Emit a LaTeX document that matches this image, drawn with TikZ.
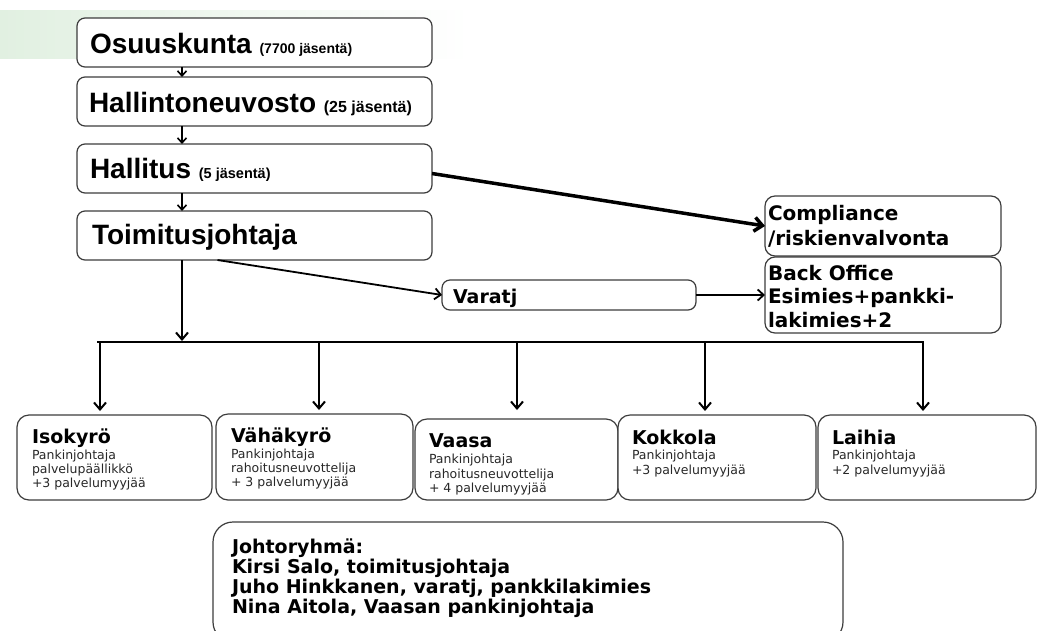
\documentclass[tikz,border=0pt]{standalone}
\usepackage{fontspec}
\newfontfamily\arialf{Liberation Sans}
\newfontfamily\verd{DejaVu Sans}
\usetikzlibrary{arrows.meta}
\definecolor{boxline}{RGB}{60,60,60}
\definecolor{subtxt}{RGB}{40,40,40}
\definecolor{bggreen}{RGB}{225,240,225}
\begin{document}
\begin{tikzpicture}[x=1pt,y=-1pt,
  box/.style={draw=boxline, line width=1.2pt, fill=white, rounded corners=8pt,
    inner sep=0pt, outer sep=0pt, anchor=north west},
  bbox/.style={box, rounded corners=12pt},
  lbl/.style={anchor=base west, inner sep=0pt, outer sep=0pt},
  bigT/.style={font=\arialf\bfseries\fontsize{28}{30}\selectfont},
  vb/.style={font=\verd\bfseries\fontsize{19}{24}\selectfont, align=left},
  vr/.style={font=\verd\bfseries\fontsize{20}{24}\selectfont, align=left},
  vs/.style={font=\verd\fontsize{12.5}{14.5}\selectfont, text=subtxt, align=left},
  tarr/.style={line width=1.6pt, -{Straight Barb[length=5pt,width=9pt]}},
  barr/.style={line width=2pt, -{Straight Barb[length=7pt,width=12pt]}},
  carr/.style={line width=3.5pt, -{Straight Barb[length=8pt,width=14pt]}},
  varr/.style={line width=1.8pt, -{Straight Barb[length=6pt,width=11pt]}}
]
\path[use as bounding box] (0,0) rectangle (1043,630);
\clip (0,0) rectangle (1043,630);
\shade[left color=bggreen, right color=white] (0,10) rectangle (470,58);

% top chain
\node[box, minimum width=355pt, minimum height=49pt] (osu) at (77,18) {};
\node[box, minimum width=355pt, minimum height=49pt] (hal) at (77,77) {};
\node[box, minimum width=355pt, minimum height=49pt] (hts) at (77,144) {};
\node[box, minimum width=355pt, minimum height=49pt] (toim) at (77,211) {};
\node[lbl, bigT] (tosu) at (90,53) {Osuuskunta {\fontsize{14}{15}\selectfont(7700 jäsentä)}};
\node[lbl, bigT] (thal) at (89,112) {Hallintoneuvosto {\fontsize{16}{17}\selectfont(25 jäsentä)}};
\node[lbl, bigT] (thts) at (90,178) {Hallitus {\fontsize{14.5}{16}\selectfont(5 jäsentä)}};
\node[lbl, bigT] (ttoim) at (92,244) {Toimitusjohtaja};

% right side
\node[box, rounded corners=10pt, minimum width=236pt, minimum height=60pt] (comp) at (765,196) {};
\node[box, rounded corners=10pt, minimum width=236pt, minimum height=76pt] (bo) at (765,257) {};
\node[box, minimum width=254pt, minimum height=30pt] (var) at (442,280) {};
\node[lbl, vr] (tcomp) at (768,220) {Compliance};
\node[lbl, vr] (tcomp2) at (768,245) {/riskienvalvonta};
\node[lbl, vr] (tbo1) at (768,280) {Back Office};
\node[lbl, vr] (tbo2) at (768,303) {Esimies+pankki-};
\node[lbl, vr] (tbo3) at (768,327) {lakimies+2};
\node[lbl, vb] (tvar) at (453,303) {Varatj};

% units
\node[bbox, minimum width=195pt, minimum height=85pt] (iso) at (17,415) {};
\node[bbox, minimum width=197pt, minimum height=86pt] (vah) at (216,414) {};
\node[bbox, minimum width=203pt, minimum height=81pt] (vaa) at (415,419) {};
\node[bbox, minimum width=198pt, minimum height=85pt] (kok) at (618,415) {};
\node[bbox, minimum width=218pt, minimum height=85pt] (lai) at (818,415) {};

\node[lbl, vb] (tiso) at (32,443) {Isokyrö};
\node[lbl, vs] (siso1) at (32,459) {Pankinjohtaja};
\node[lbl, vs] (siso2) at (32,473) {palvelupäällikkö};
\node[lbl, vs] (siso3) at (32,487) {+3 palvelumyyjää};

\node[lbl, vb] (tvah) at (231,442) {Vähäkyrö};
\node[lbl, vs] (svah1) at (231,458) {Pankinjohtaja};
\node[lbl, vs] (svah2) at (231,472) {rahoitusneuvottelija};
\node[lbl, vs] (svah3) at (231,486) {+ 3 palvelumyyjää};

\node[lbl, vb] (tvaa) at (429,447) {Vaasa};
\node[lbl, vs] (svaa1) at (429,463) {Pankinjohtaja};
\node[lbl, vs] (svaa2) at (429,478) {rahoitusneuvottelija};
\node[lbl, vs] (svaa3) at (429,492) {+ 4 palvelumyyjää};

\node[lbl, vb] (tkok) at (632,444) {Kokkola};
\node[lbl, vs] (skok1) at (632,459) {Pankinjohtaja};
\node[lbl, vs] (skok2) at (632,474) {+3 palvelumyyjää};

\node[lbl, vb] (tlai) at (832,444) {Laihia};
\node[lbl, vs] (slai1) at (832,459) {Pankinjohtaja};
\node[lbl, vs] (slai2) at (832,474) {+2 palvelumyyjää};

% management group
\node[box, rounded corners=20pt, minimum width=630pt, minimum height=120pt] (jr) at (213,522) {};
\node[lbl, vb] (tjr1) at (232,553) {Johtoryhmä:};
\node[lbl, vb] (tjr2) at (232,573) {Kirsi Salo, toimitusjohtaja};
\node[lbl, vb] (tjr3) at (232,593) {Juho Hinkkanen, varatj, pankkilakimies};
\node[lbl, vb] (tjr4) at (232,613) {Nina Aitola, Vaasan pankinjohtaja};

% connectors
\coordinate (ax) at (182,0);
\draw[tarr] (osu.south -| ax) -- (hal.north -| ax);
\draw[tarr] (hal.south -| ax) -- (hts.north -| ax);
\draw[tarr] (hts.south -| ax) -- (toim.north -| ax);

\coordinate (b0) at (182,341);
\coordinate (bL) at (97,342);
\coordinate (bR) at (924,342);
\coordinate (b1) at (100,342);
\coordinate (b2) at (319,342);
\coordinate (b3) at (517,342);
\coordinate (b4) at (705,342);
\coordinate (b5) at (923,342);
\draw[barr] (toim.south -| b0) -- (b0);
\draw[line width=2.5pt] (bL) -- (bR);
\draw[barr, shorten >=4pt] (b1) -- (b1 |- iso.north);
\draw[barr, shorten >=4pt] (b2) -- (b2 |- vah.north);
\draw[barr, shorten >=9pt] (b3) -- (b3 |- vaa.north);
\draw[barr, shorten >=4pt] (b4) -- (b4 |- kok.north);
\draw[barr, shorten >=4pt] (b5) -- (b5 |- lai.north);

\draw[carr] ([yshift=-5pt]hts.east) -- (comp.west);
\draw[varr] ([xshift=-37pt]toim.south) -- (var.west);
\draw[varr] (var.east) -- (bo.west);
\end{tikzpicture}
\end{document}
